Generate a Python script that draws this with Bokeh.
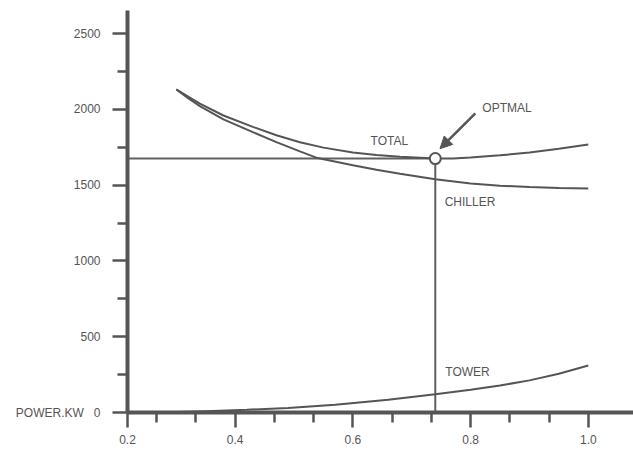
from bokeh.plotting import figure
from bokeh.models import FixedTicker, Arrow, NormalHead, Range1d
from bokeh.core.properties import value
from bokeh.embed import file_html
from bokeh.resources import INLINE

# ---- data ----
total_x = [0.30, 0.32, 0.34, 0.38, 0.43, 0.47, 0.51, 0.55, 0.60, 0.64, 0.68, 0.74,
           0.77, 0.80, 0.85, 0.90, 0.95, 1.00]
total_kw = [2132, 2085, 2038, 1960, 1885, 1830, 1784, 1748, 1716, 1700, 1688, 1676,
            1677, 1683, 1697, 1716, 1740, 1769]

chiller_x = [0.30, 0.32, 0.34, 0.38, 0.43, 0.47, 0.51, 0.54, 0.60, 0.64, 0.68, 0.74,
             0.80, 0.85, 0.90, 0.95, 1.00]
chiller_kw = [2132, 2075, 2022, 1935, 1850, 1784, 1723, 1679, 1632, 1602, 1576, 1540,
              1512, 1497, 1488, 1482, 1479]

tower_x = [0.30, 0.35, 0.42, 0.49, 0.57, 0.66, 0.74, 0.80, 0.85, 0.90, 0.95, 1.00]
tower_kw = [3, 9, 18, 30, 51, 84, 120, 150, 178, 212, 256, 310]

opt_x = 0.74
opt_kw = 1676

x_tick_values = [0.4, 0.6, 0.8, 1.0]
x_tick_labels = ["0.2", "0.4", "0.6", "0.8", "1.0"]
x_minor_ticks = [0.2667, 0.3333, 0.4667, 0.5333, 0.6667, 0.7333, 0.8667, 0.9333]
y_tick_values = [0, 500, 1000, 1500, 2000, 2500]
y_tick_labels = ["0", "500", "1000", "1500", "2000", "2500"]
y_minor_ticks = [250, 750, 1250, 1750, 2250]

curve_label_x = [0.630, 0.756, 0.757, 0.820]
curve_label_y = [1789, 1386, 264, 2007]
curve_label_text = ["TOTAL", "CHILLER", "TOWER", "OPTMAL"]

arrow_from = (0.808, 1974)
arrow_to = (0.748, 1741)

y_axis_name = "POWER.KW"

# x position where the vertical axis stands (shown as "0.2")
X_START = 0.217
X_END = 1.0768
Y_END = 2653

INK = "#555555"
FONT = "Liberation Sans"

p = figure(width=633, height=452, output_backend="svg", toolbar_location=None,
           x_range=Range1d(X_START, X_END), y_range=Range1d(0, Y_END),
           min_border_left=127, min_border_top=10, min_border_right=0,
           min_border_bottom=40)
p.grid.visible = False
p.outline_line_color = None

for ax in (p.xaxis[0], p.yaxis[0]):
    ax.axis_line_width = 4
    ax.axis_line_color = INK
    ax.major_tick_line_color = INK
    ax.minor_tick_line_color = INK
    ax.major_tick_line_width = 2.5
    ax.minor_tick_line_width = 2.5
    ax.major_tick_in = 0
    ax.major_tick_out = 15
    ax.minor_tick_in = 0
    ax.minor_tick_out = 10
    ax.major_label_text_font = FONT
    ax.major_label_text_font_size = "12px"
    ax.major_label_text_color = INK

xt = [X_START] + x_tick_values
p.xaxis[0].ticker = FixedTicker(ticks=xt, minor_ticks=x_minor_ticks)
p.xaxis[0].major_label_overrides = {t: lab for t, lab in zip(xt, x_tick_labels)}
p.xaxis[0].major_label_standoff = 7

# the "0" row also carries the quantity name, as in the reference
y_labels = list(y_tick_labels)
y_labels[0] = y_axis_name + "\u00a0\u00a0\u00a0" + y_tick_labels[0]
p.yaxis[0].ticker = FixedTicker(ticks=y_tick_values, minor_ticks=y_minor_ticks)
p.yaxis[0].major_label_overrides = {t: lab for t, lab in zip(y_tick_values, y_labels)}
p.yaxis[0].major_label_standoff = 12

# guide lines to the optimum
p.segment(x0=[X_START, opt_x], y0=[opt_kw, 0], x1=[opt_x, opt_x], y1=[opt_kw, opt_kw],
          line_color="#606060", line_width=2)

p.line(total_x, total_kw, line_color=INK, line_width=2)
p.line(chiller_x, chiller_kw, line_color=INK, line_width=2)
p.line(tower_x, tower_kw, line_color=INK, line_width=2)

p.scatter([opt_x], [opt_kw], size=11, fill_color="white", line_color=INK, line_width=2)

p.add_layout(Arrow(end=NormalHead(size=12, fill_color=INK, line_color=INK, line_width=1),
                   x_start=arrow_from[0], y_start=arrow_from[1],
                   x_end=arrow_to[0], y_end=arrow_to[1],
                   line_color=INK, line_width=2.5))

p.text(x=curve_label_x, y=curve_label_y, text=curve_label_text,
       text_font=value(FONT), text_font_size="12px", text_color=INK,
       text_align="left", text_baseline="middle")

open("out.html", "w").write(file_html(p, INLINE))
